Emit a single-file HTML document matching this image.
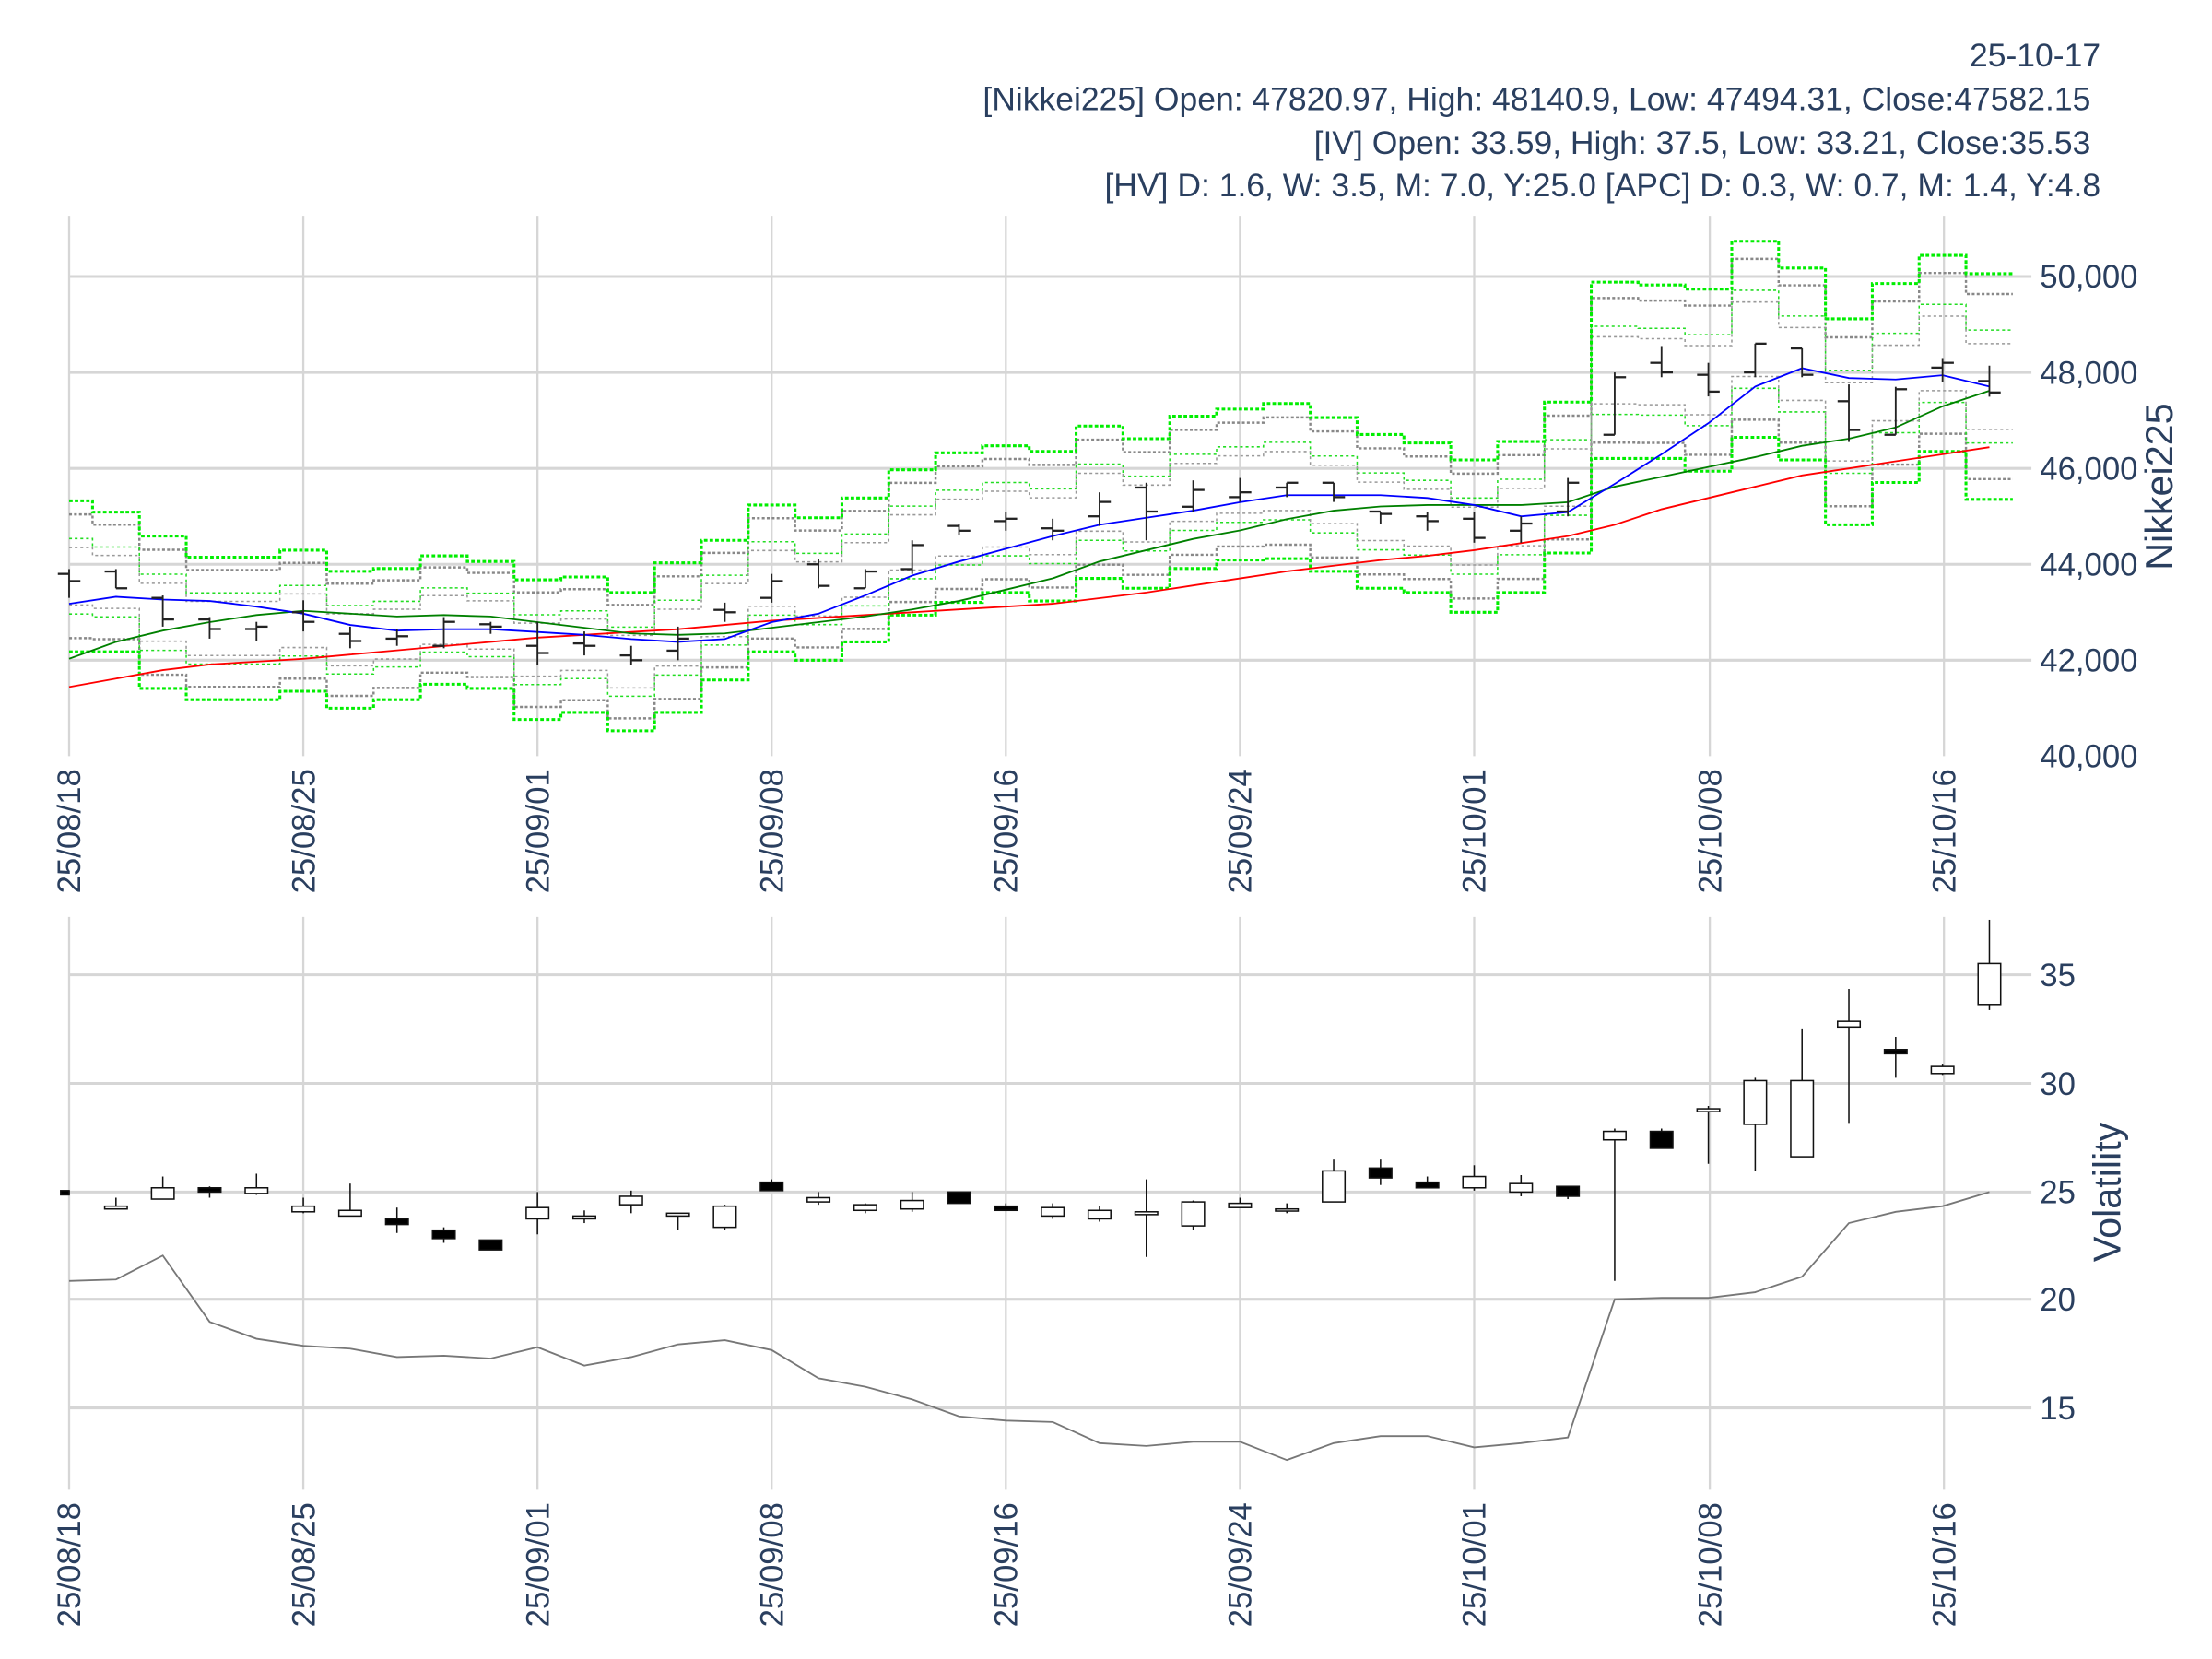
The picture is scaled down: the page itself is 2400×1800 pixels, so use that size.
<!DOCTYPE html>
<html><head><meta charset="utf-8">
<style>
html,body{margin:0;padding:0;background:#fff;}
svg{display:block;}
text{font-family:"Liberation Sans",sans-serif;fill:#2a3f5f;}
</style></head>
<body>
<svg id="s" xmlns="http://www.w3.org/2000/svg" width="2400" height="1800" viewBox="0 0 1568 1176">
<rect width="1568" height="1176" fill="#fff"/>
<g font-size="23.2" text-anchor="end">
<text x="1489" y="47">25-10-17</text>
<text x="1482" y="78">[Nikkei225] Open: 47820.97, High: 48140.9, Low: 47494.31, Close:47582.15</text>
<text x="1482" y="109">[IV] Open: 33.59, High: 37.5, Low: 33.21, Close:35.53</text>
<text x="1489" y="139">[HV] D: 1.6, W: 3.5, M: 7.0, Y:25.0 [APC] D: 0.3, W: 0.7, M: 1.4, Y:4.8</text>
</g>
<g id="grid"></g>
<g id="bands"></g>
<g id="lines"></g>
<g id="bars"></g>
<g id="iv"></g>
<g id="labels" font-size="22.7"></g>
</svg>
<script>
const NS="http://www.w3.org/2000/svg";
function el(parent,tag,attrs,txt){const e=document.createElementNS(NS,tag);for(const k in attrs)e.setAttribute(k,attrs[k]);if(txt!==undefined)e.textContent=txt;document.getElementById(parent).appendChild(e);return e;}
const X=i=>49+i*33.2;
const Y=p=>196+(50000-p)*0.034;
const vx=[49,215,381,547,713,879,1045,1212,1378];
vx.forEach(x=>{el('grid','line',{x1:x,x2:x,y1:153,y2:536,stroke:'#d6d6d6','stroke-width':1.5});el('grid','line',{x1:x,x2:x,y1:650,y2:1056,stroke:'#d6d6d6','stroke-width':1.5});});
[196,264,332,400,468].forEach(y=>el('grid','line',{x1:49,x2:1440,y1:y,y2:y,stroke:'#d6d6d6','stroke-width':2}));
[691,768,845,921,998].forEach(y=>el('grid','line',{x1:49,x2:1440,y1:y,y2:y,stroke:'#d6d6d6','stroke-width':2}));
[[50000,196],[48000,264],[46000,332],[44000,400],[42000,468],[40000,536]].forEach(([v,y])=>el('labels','text',{x:1446,y:y+8},v.toLocaleString('en-US')));
[[35,691],[30,768],[25,845],[20,921],[15,998]].forEach(([v,y])=>el('labels','text',{x:1446,y:y+8},v));
el('labels','text',{x:1540,y:345,transform:'rotate(-90 1540 345)','text-anchor':'middle','font-size':27},'Nikkei225');
el('labels','text',{x:1503,y:845,transform:'rotate(-90 1503 845)','text-anchor':'middle','font-size':27},'Volatility');
const dl=['25/08/18','25/08/25','25/09/01','25/09/08','25/09/16','25/09/24','25/10/01','25/10/08','25/10/16'];
vx.forEach((x,k)=>{[545,1065].forEach(y0=>el('labels','text',{x:x+8,y:y0,transform:`rotate(-90 ${x+8} ${y0})`,'text-anchor':'end'},dl[k]));});
const U=[355,363,380,395,395,390,405,403,394,398,411,409,420,399,383,358,367,353,333,321,316,320,302,311,295,290,286,296,308,314,326,313,285,200,202,205,171,190,226,201,181,194];
const L=[462,462,488,496,496,490,502,496,485,488,510,505,518,505,482,462,468,455,436,427,420,426,410,417,403,397,396,405,417,420,434,420,392,325,325,334,310,326,372,342,320,354];
function stepPath(arr){let d='';for(let i=0;i<arr.length;i++){const x0=i==0?49:X(i)-16.6,x1=X(i)+16.6;d+=(i==0?'M':'L')+x0+','+arr[i]+' L'+x1+','+arr[i]+' ';}return d;}
const m=U.map((u,i)=>(u+L[i])/2),h=U.map((u,i)=>(L[i]-u)/2);
const lvl=f=>m.map((v,i)=>v+f*h[i]);
[[-0.82,'#888',1.6],[0.82,'#888',1.6],[-0.5,'#22dd22',1],[0.5,'#22dd22',1],[-0.38,'#999',1],[0.38,'#999',1]].forEach(([f,c,w])=>el('bands','path',{d:stepPath(lvl(f)),fill:'none',stroke:c,'stroke-width':w,'stroke-dasharray':w>1?'2,1.5':'2,2'}));
el('bands','path',{d:stepPath(U),fill:'none',stroke:'#00ee00','stroke-width':2,'stroke-dasharray':'2.5,1.5'});
el('bands','path',{d:stepPath(L),fill:'none',stroke:'#00ee00','stroke-width':2,'stroke-dasharray':'2.5,1.5'});
const blue=[428,423,425,426,430,435,443,447,446,446,448,450,453,455,453,441,435,422,408,398,389,380,372,367,362,356,351,351,351,353,358,366,363,343,322,300,274,261,268,269,266,274];
const green=[467,455,447,441,436,433,435,437,436,437,441,445,449,450,449,445,441,437,432,426,418,410,398,390,382,376,368,362,359,358,358,358,356,345,338,331,324,316,311,303,288,277];
const red=[487,481,475,471,469,467,464,461,458,455,452,450,448,446,443,440,438,436,434,432,430,428,424,420,415,410,405,401,397,394,390,385,380,372,361,353,345,337,332,327,322,317];
[[red,'#ff0000'],[green,'#008000'],[blue,'#0000ff']].forEach(([a,c])=>el('lines','polyline',{points:a.map((y,i)=>X(i)+','+y).join(' '),fill:'none',stroke:c,'stroke-width':1.2}));
const O=[[43800,43900,43300,43650],[43850,43900,43500,43500],[43300,43350,42700,42850],[42850,42900,42450,42650],[42650,42800,42400,42700],[43000,43250,42600,42800],[42550,42700,42250,42400],[42450,42650,42300,42500],[42300,42900,42250,42800],[42750,42800,42550,42700],[42300,42800,41900,42150],[42350,42600,42100,42300],[42100,42300,41900,42000],[42200,42700,42000,42450],[43050,43200,42800,43000],[43300,43800,43200,43650],[44000,44100,43500,43550],[43500,43900,43500,43850],[43900,44500,43800,44400],[44800,44850,44600,44700],[44900,45100,44700,44950],[44750,44950,44500,44700],[45000,45500,44800,45300],[45600,45700,44500,45100],[45200,45750,45100,45550],[45400,45800,45300,45500],[45600,45700,45400,45700],[45700,45700,45300,45400],[45100,45100,44850,45050],[45000,45100,44700,44900],[44950,45100,44450,44550],[44700,45000,44450,44850],[45100,45800,45000,45700],[46700,48000,46700,47900],[48200,48550,47900,48000],[47950,48200,47500,47600],[48000,48600,47900,48600],[48500,48500,47900,47950],[47400,47750,46550,46800],[46700,47700,46700,47650],[48100,48300,47800,48200],[47820.97,48140.9,47494.31,47582.15]];
O.forEach(([o,hh,l,c],i)=>{const x=X(i);el('bars','line',{x1:x,x2:x,y1:Y(hh),y2:Y(l),stroke:'#222','stroke-width':1.2});el('bars','line',{x1:x-8,x2:x,y1:Y(o),y2:Y(o),stroke:'#222','stroke-width':1.5});el('bars','line',{x1:x,x2:x+8,y1:Y(c),y2:Y(c),stroke:'#222','stroke-width':1.5});});
const hv=[908,907,890,937,949,954,956,962,961,963,955,968,962,953,950,957,977,983,992,1004,1007,1008,1023,1025,1022,1022,1035,1023,1018,1018,1026,1023,1019,921,920,920,916,905,867,859,855,845];
el('iv','polyline',{points:hv.map((y,i)=>X(i)+','+y).join(' '),fill:'none',stroke:'#777','stroke-width':1.2});
const C=[[844,847,844,847,1],[855,857,849,857,0],[842,850,834,850,0],[842,845,841,849,1],[842,846,832,847,0],[855,859,849,860,0],[858,862,839,862,0],[864,868,856,874,1],[872,878,870,881,1],[879,886,879,886,1],[856,864,845,875,0],[862,864,858,867,0],[848,854,844,860,0],[860,862,860,872,0],[855,870,854,872,0],[838,844,836,844,1],[849,852,845,854,0],[854,858,853,860,0],[851,857,845,859,0],[845,853,845,853,1],[855,858,853,858,1],[856,862,853,864,0],[858,864,855,866,0],[859,861,836,891,0],[852,869,851,872,0],[853,856,849,856,0],[857,858,853,860,0],[830,852,822,852,0],[828,835,822,840,1],[838,842,834,842,1],[834,842,826,844,0],[839,845,833,848,0],[841,848,841,850,1],[802,808,800,908,0],[802,814,800,814,1],[786,788,784,825,0],[766,797,764,830,0],[766,820,729,820,0],[724,728,701,796,0],[744,747,735,764,1],[756,761,754,762,0],[683,712,652,716,0]];
C.forEach(([bt,bb,wt,wb,f],i)=>{const x=X(i);const w=i==0?6:16;el('iv','line',{x1:x,x2:x,y1:wt,y2:wb,stroke:'#111','stroke-width':1});el('iv','rect',{x:i==0?x-w:x-w/2,y:bt,width:w,height:Math.max(bb-bt,1.5),fill:f?'#000':'#fff',stroke:'#111','stroke-width':1});});
</script>
</body></html>
